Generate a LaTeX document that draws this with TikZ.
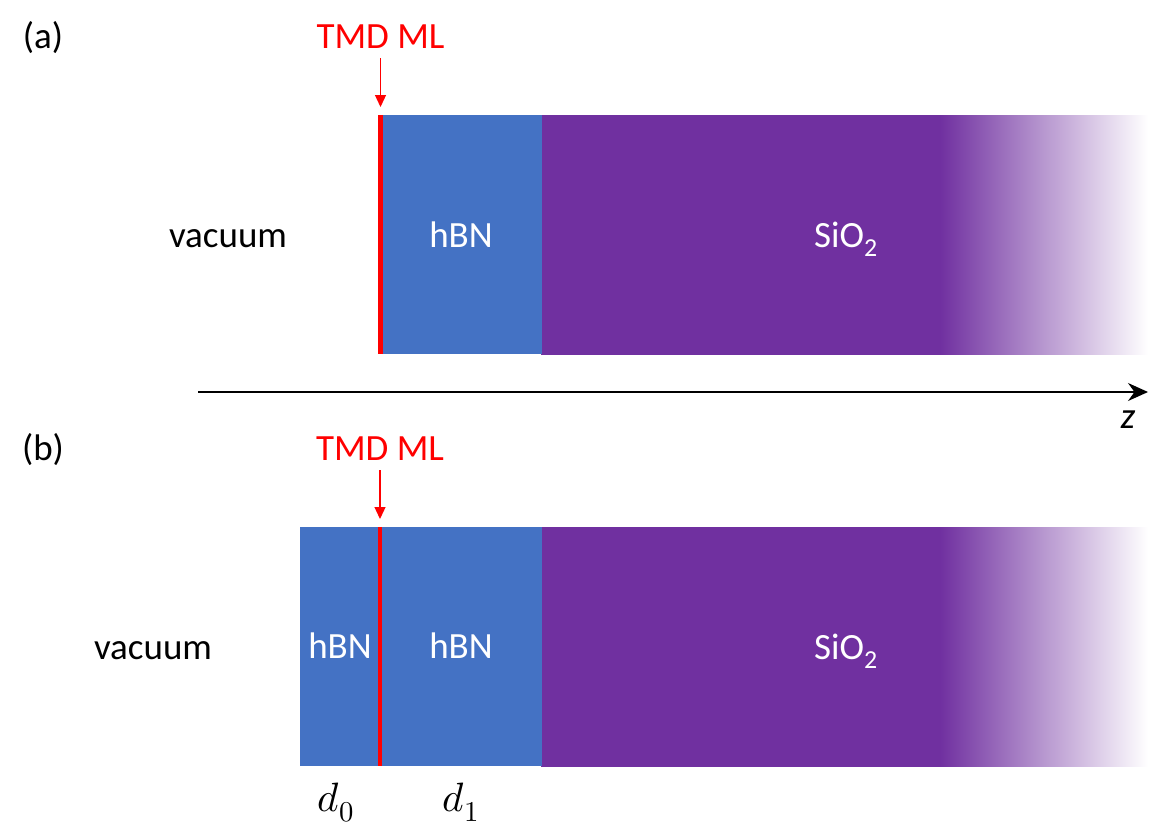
\documentclass[tikz,border=0pt]{standalone}
\usepackage{fontspec}
\usepackage{unicode-math}
\setmainfont{Carlito}
\setmathfont{Latin Modern Math}
\usetikzlibrary{arrows.meta}
\definecolor{hbnblue}{HTML}{4472C4}
\definecolor{sioviolet}{HTML}{7030A0}
\definecolor{tmdred}{HTML}{FF0000}
% path maps to 25bp..75bp; solid violet up to 65.7% of width, then fade to white
\pgfdeclarehorizontalshading{siofade}{100bp}{color(0bp)=(sioviolet); color(57.85bp)=(sioviolet); color(75bp)=(white); color(100bp)=(white)}
\begin{document}
\begin{tikzpicture}[x=1pt,y=-1pt,
  lbl/.style={font=\fontsize{37}{44}\selectfont, inner sep=0pt, anchor=base},
  wlbl/.style={lbl, text=white},
  rlbl/.style={lbl, text=tmdred},
  dlbl/.style={font=\fontsize{41}{48}\selectfont, inner sep=0pt, anchor=base},
  siolayer/.style={shading=siofade},
  tmdarrow/.style={tmdred, line width=1.3pt, -{Triangle[length=12pt,width=11pt]}, shorten >=8pt},
  zarrow/.style={black, line width=1.4pt, -{Stealth[length=20pt,width=18pt]}}]
\useasboundingbox (0,0) rectangle (1170,827);
% ---------- panel (a)
\shade[siolayer] (541,115) rectangle (1148,354);
\fill[hbnblue] (381,115) rectangle (541.5,354);
\fill[tmdred] (378,115) rectangle (383,354);
\node[lbl] (labA) at (43,48) {(a)};
\node[rlbl] (tmdA) at (380.5,48) {TMD ML};
\coordinate (mlA) at (380.5,115);
\draw[tmdarrow] ([yshift=-10pt]tmdA.south) -- (mlA);
\node[lbl] (vacA) at (228,247) {vacuum};
\node[wlbl] (hbnA) at (461,247) {hBN};
\node[wlbl] (sioA) at (846,247) {SiO\textsubscript{2}};
% ---------- z axis
\coordinate (zs) at (198,392);
\coordinate (ze) at (1148,392);
\draw[zarrow] (zs) -- (ze);
\node[lbl] (zlab) at (1128,428) {\itshape z};
% ---------- panel (b)
\shade[siolayer] (541,527) rectangle (1148,766);
\fill[hbnblue] (300,527) rectangle (541.5,766);
\fill[tmdred] (378,527) rectangle (382,766);
\node[lbl] (labB) at (43,460) {(b)};
\node[rlbl] (tmdB) at (380,460) {TMD ML};
\coordinate (mlB) at (380,527);
\draw[tmdarrow] ([yshift=-10pt]tmdB.south) -- (mlB);
\node[lbl] (vacB) at (153,659) {vacuum};
\node[wlbl] (hbnB0) at (340,658) {hBN};
\node[wlbl] (hbnB1) at (461,658) {hBN};
\node[wlbl] (sioB) at (846,659) {SiO\textsubscript{2}};
\node[dlbl] (d0) at (336,811) {$d_0$};
\node[dlbl] (d1) at (461,811) {$d_1$};
\end{tikzpicture}
\end{document}
